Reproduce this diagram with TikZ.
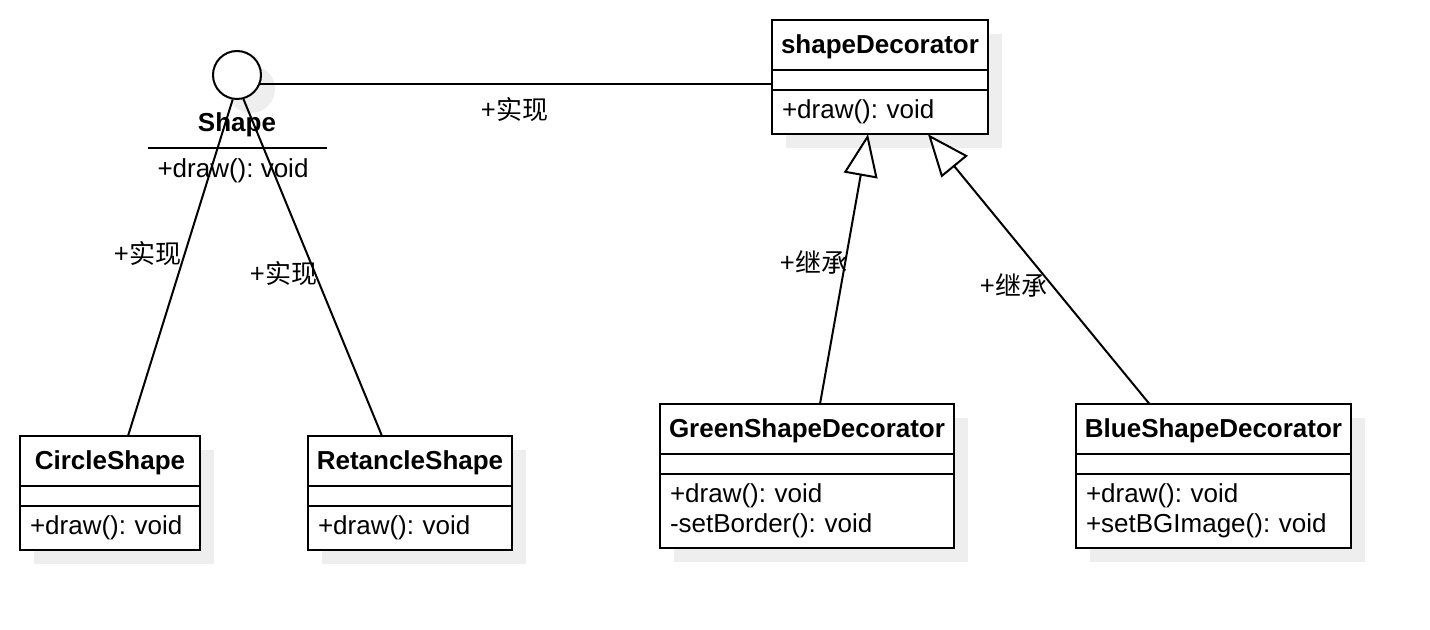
\documentclass[tikz,border=0pt]{standalone}
\usepackage{fontspec}
\setmainfont{Liberation Sans}
\newfontfamily\cjk{Noto Sans CJK SC}
\usetikzlibrary{positioning,arrows.meta,shadows}
\definecolor{shadowgray}{HTML}{EEEEEE}
\frenchspacing

\begin{document}
\begin{tikzpicture}[x=0.5pt, y=-0.5pt, line width=1pt,
    every node/.style={font=\fontsize{13}{15}\selectfont},
    softshadow/.style={drop shadow={shadow xshift=7pt, shadow yshift=-7pt, fill=shadowgray, opacity=1}},
    box/.style={draw, fill=white, inner sep=0pt, outer sep=0pt, minimum width=#1, softshadow},
    head/.style={box=#1, minimum height=25pt, text height=11pt, text depth=2pt, font=\fontsize{13}{15}\selectfont\bfseries},
    gap/.style={box=#1, minimum height=10pt},
    ops/.style={box=#1, text width=#1-10pt, inner xsep=5pt, inner ysep=5pt, align=left},
    lbl/.style={font=\fontsize{13}{15}\selectfont\cjk},
    inherit/.style={-{Triangle[open, length=21pt, width=17pt, fill=white]}}]
    \useasboundingbox (0,0) rectangle (1430,630);

    % interface Shape
    \node[circle, draw, fill=white, minimum size=24pt, inner sep=0pt, softshadow] (circ) at (237,75) {};
    \node[font=\fontsize{13}{15}\selectfont\bfseries] (shname) at (237,125) {Shape};
    \draw (148,148) -- (327,148);
    \node (shops) at (233,171) {+draw(): void};

    % classes
    \node[head=90pt, anchor=north west] (csh) at (20,436) {CircleShape};
    \node[gap=90pt, below=0pt of csh] (csg) {};
    \node[ops=90pt, below=0pt of csg] (cso) {+draw(): void};

    \node[head=102pt, anchor=north west] (rsh) at (308,436) {RetancleShape};
    \node[gap=102pt, below=0pt of rsh] (rsg) {};
    \node[ops=102pt, below=0pt of rsg] (rso) {+draw(): void};

    \node[head=108pt, anchor=north west] (sdh) at (772,20) {shapeDecorator};
    \node[gap=108pt, below=0pt of sdh] (sdg) {};
    \node[ops=108pt, below=0pt of sdg] (sdo) {+draw(): void};

    \node[head=147pt, anchor=north west] (gsh) at (660,404) {GreenShapeDecorator};
    \node[gap=147pt, below=0pt of gsh] (gsg) {};
    \node[ops=147pt, below=0pt of gsg] (gso) {+draw(): void\\-setBorder(): void};

    \node[head=137.5pt, anchor=north west] (bsh) at (1076,404) {BlueShapeDecorator};
    \node[gap=137.5pt, below=0pt of bsh] (bsg) {};
    \node[ops=137.5pt, below=0pt of bsg] (bso) {+draw(): void\\+setBGImage(): void};

    % connectors
    \draw (circ.-22) -- (circ.-22 -| sdg.west);
    \draw ([xshift=9pt]csh.north) -- (circ.-100);
    \draw ([xshift=-14pt]rsh.north) -- (circ.-75);
    \draw[inherit] ([xshift=6.5pt]gsh.north) -- ([xshift=-6pt]sdo.south);
    \draw[inherit] ([xshift=-32pt]bsh.north) -- ([xshift=24pt]sdo.south);

    % labels
    \node[lbl] (l1) at (515,110) {+实现};
    \node[lbl] (l2) at (148,254) {+实现};
    \node[lbl] (l3) at (284,274) {+实现};
    \node[lbl] (l4) at (814,262) {+继承};
    \node[lbl] (l5) at (1014,285) {+继承};
\end{tikzpicture}
\end{document}
